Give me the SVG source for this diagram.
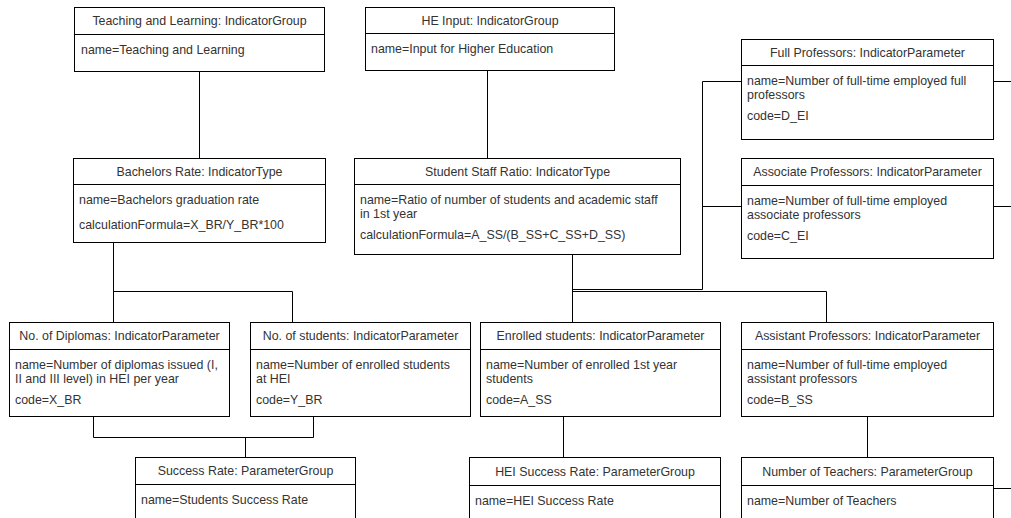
<svg xmlns="http://www.w3.org/2000/svg" width="1011" height="518" viewBox="0 0 1011 518">
<style>
.box{fill:#fff;stroke:#000;stroke-width:1}
.div{stroke:#000;stroke-width:1}
.t{font-family:"Liberation Sans",Arial,Helvetica,sans-serif;font-size:12.4px;fill:#333}
.h{text-anchor:middle;dominant-baseline:central}
.c{fill:none;stroke:#000;stroke-width:1}
</style>
<rect width="1011" height="518" fill="#fff"/>
<g id="connectors">
<path class="c" d="M199.5 71V158"/>
<path class="c" d="M487.5 70V158"/>
<path class="c" d="M113.5 242V322M113.5 291.5H292.5V322"/>
<path class="c" d="M572.5 254V322M572.5 289.5H702.5V81.5H741M702.5 206.5H741"/>
<path class="c" d="M572.5 291.5H826.5V322"/>
<path class="c" d="M93.5 416V437.5H313.5V416M245.5 437.5V457"/>
<path class="c" d="M563.5 416V457"/>
<path class="c" d="M867.5 416V457"/>
<path class="c" d="M993 81.5H1011M993 206.5H1011M993 488.5H1011"/>
</g>
<g id="teaching">
<rect class="box" x="74.5" y="7.5" width="250" height="64"/>
<path class="div" d="M74.5 34.5H324.5"/>
<text class="t h" x="199.5" y="21">Teaching and Learning: IndicatorGroup</text>
<text class="t" x="81" y="54">name=Teaching and Learning</text>
</g>
<g id="heinput">
<rect class="box" x="365.5" y="7.5" width="249" height="63"/>
<path class="div" d="M365.5 33.5H614.5"/>
<text class="t h" x="490" y="20.5">HE Input: IndicatorGroup</text>
<text class="t" x="371" y="53">name=Input for Higher Education</text>
</g>
<g id="fullprof">
<rect class="box" x="741.5" y="39.5" width="252" height="100"/>
<path class="div" d="M741.5 65.5H993.5"/>
<text class="t h" x="867.5" y="52.5">Full Professors: IndicatorParameter</text>
<text class="t" x="747" y="85">name=Number of full-time employed full</text>
<text class="t" x="747" y="99">professors</text>
<text class="t" x="747" y="120">code=D_EI</text>
</g>
<g id="associate">
<rect class="box" x="741.5" y="158.5" width="252" height="100"/>
<path class="div" d="M741.5 185.5H993.5"/>
<text class="t h" x="867.5" y="172">Associate Professors: IndicatorParameter</text>
<text class="t" x="747" y="205">name=Number of full-time employed</text>
<text class="t" x="747" y="219">associate professors</text>
<text class="t" x="747" y="240">code=C_EI</text>
</g>
<g id="bachelors">
<rect class="box" x="73.5" y="158.5" width="252" height="84"/>
<path class="div" d="M73.5 184.5H325.5"/>
<text class="t h" x="199.5" y="171.5">Bachelors Rate: IndicatorType</text>
<text class="t" x="79" y="204">name=Bachelors graduation rate</text>
<text class="t" x="79" y="229">calculationFormula=X_BR/Y_BR*100</text>
</g>
<g id="ssr">
<rect class="box" x="354.5" y="158.5" width="326" height="96"/>
<path class="div" d="M354.5 184.5H680.5"/>
<text class="t h" x="517.5" y="171.5">Student Staff Ratio: IndicatorType</text>
<text class="t" x="360" y="204">name=Ratio of number of students and academic staff</text>
<text class="t" x="360" y="218">in 1st year</text>
<text class="t" x="360" y="239">calculationFormula=A_SS/(B_SS+C_SS+D_SS)</text>
</g>
<g id="diplomas">
<rect class="box" x="9.5" y="322.5" width="220" height="94"/>
<path class="div" d="M9.5 349.5H229.5"/>
<text class="t h" x="119.5" y="336">No. of Diplomas: IndicatorParameter</text>
<text class="t" x="15" y="369">name=Number of diplomas issued (I,</text>
<text class="t" x="15" y="383">II and III level) in HEI per year</text>
<text class="t" x="15" y="404">code=X_BR</text>
</g>
<g id="students">
<rect class="box" x="250.5" y="322.5" width="220" height="94"/>
<path class="div" d="M250.5 349.5H470.5"/>
<text class="t h" x="360.5" y="336">No. of students: IndicatorParameter</text>
<text class="t" x="256" y="369">name=Number of enrolled students</text>
<text class="t" x="256" y="383">at HEI</text>
<text class="t" x="256" y="404">code=Y_BR</text>
</g>
<g id="enrolled">
<rect class="box" x="480.5" y="322.5" width="240" height="94"/>
<path class="div" d="M480.5 349.5H720.5"/>
<text class="t h" x="600.5" y="336">Enrolled students: IndicatorParameter</text>
<text class="t" x="486" y="369">name=Number of enrolled 1st year</text>
<text class="t" x="486" y="383">students</text>
<text class="t" x="486" y="404">code=A_SS</text>
</g>
<g id="assistant">
<rect class="box" x="741.5" y="322.5" width="252" height="94"/>
<path class="div" d="M741.5 349.5H993.5"/>
<text class="t h" x="867.5" y="336">Assistant Professors: IndicatorParameter</text>
<text class="t" x="747" y="369">name=Number of full-time employed</text>
<text class="t" x="747" y="383">assistant professors</text>
<text class="t" x="747" y="404">code=B_SS</text>
</g>
<g id="success">
<rect class="box" x="135.5" y="457.5" width="220" height="80"/>
<path class="div" d="M135.5 484.5H355.5"/>
<text class="t h" x="245.5" y="471">Success Rate: ParameterGroup</text>
<text class="t" x="141" y="504">name=Students Success Rate</text>
</g>
<g id="heisuccess">
<rect class="box" x="469.5" y="457.5" width="251" height="80"/>
<path class="div" d="M469.5 485.5H720.5"/>
<text class="t h" x="595" y="471.5">HEI Success Rate: ParameterGroup</text>
<text class="t" x="475" y="505">name=HEI Success Rate</text>
</g>
<g id="teachers">
<rect class="box" x="741.5" y="457.5" width="252" height="80"/>
<path class="div" d="M741.5 485.5H993.5"/>
<text class="t h" x="867.5" y="471.5">Number of Teachers: ParameterGroup</text>
<text class="t" x="747" y="505">name=Number of Teachers</text>
</g>
</svg>
